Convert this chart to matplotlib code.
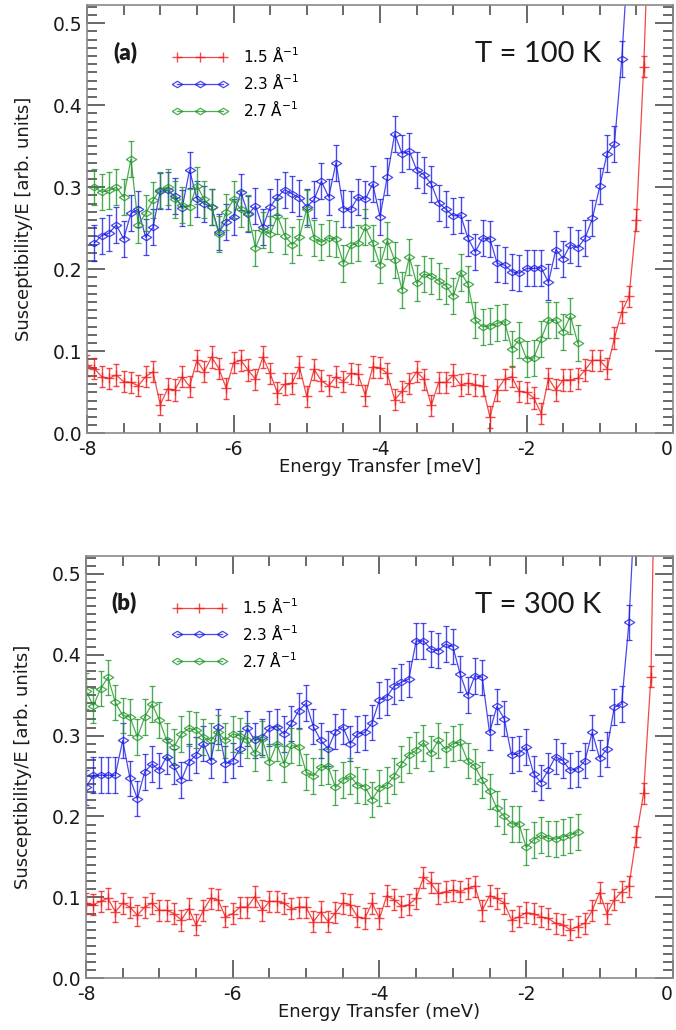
import numpy as np
import matplotlib
matplotlib.use("Agg")
import matplotlib.pyplot as plt
from matplotlib.ticker import MultipleLocator

plt.rcParams["font.family"] = ["DejaVu Sans"]
plt.rcParams["axes.unicode_minus"] = False
plt.rcParams["mathtext.default"] = "regular"

# ---- data, one point every 0.1 meV ----
# panel (a) T = 100 K
red_a_start = -8.0
red_a = [0.083, 0.079, 0.069, 0.067, 0.071, 0.063, 0.062, 0.058, 0.069, 0.075,
         0.035, 0.054, 0.053, 0.069, 0.057, 0.089, 0.075, 0.093, 0.079, 0.055,
         0.086, 0.089, 0.077, 0.066, 0.093, 0.073, 0.049, 0.060, 0.061, 0.081,
         0.045, 0.078, 0.064, 0.058, 0.069, 0.063, 0.073, 0.072, 0.046, 0.081,
         0.080, 0.073, 0.041, 0.051, 0.061, 0.075, 0.066, 0.034, 0.062, 0.062,
         0.071, 0.059, 0.061, 0.059, 0.058, 0.020, 0.053, 0.066, 0.069, 0.051,
         0.050, 0.043, 0.024, 0.067, 0.053, 0.065, 0.065, 0.067, 0.077, 0.089,
         0.089, 0.079, 0.116, 0.148, 0.167, 0.260, 0.447, 0.700]
blue_a_start = -7.9
blue_a = [0.232, 0.241, 0.244, 0.254, 0.237, 0.268, 0.273, 0.239, 0.251, 0.295,
          0.296, 0.289, 0.275, 0.321, 0.286, 0.280, 0.276, 0.245, 0.258, 0.264,
          0.294, 0.267, 0.277, 0.251, 0.276, 0.288, 0.297, 0.292, 0.287, 0.276,
          0.285, 0.307, 0.288, 0.330, 0.274, 0.273, 0.288, 0.285, 0.304, 0.264,
          0.313, 0.365, 0.341, 0.344, 0.321, 0.315, 0.304, 0.281, 0.273, 0.265,
          0.266, 0.238, 0.221, 0.238, 0.237, 0.207, 0.205, 0.197, 0.195, 0.201,
          0.201, 0.202, 0.184, 0.224, 0.213, 0.230, 0.226, 0.238, 0.262, 0.301,
          0.341, 0.353, 0.456, 0.600]
green_a_start = -7.9
green_a = [0.300, 0.294, 0.296, 0.300, 0.288, 0.334, 0.254, 0.268, 0.284, 0.297,
           0.300, 0.285, 0.278, 0.276, 0.302, 0.285, 0.276, 0.243, 0.270, 0.285,
           0.273, 0.268, 0.226, 0.248, 0.243, 0.265, 0.241, 0.230, 0.239, 0.274,
           0.238, 0.233, 0.238, 0.237, 0.207, 0.229, 0.232, 0.251, 0.232, 0.205,
           0.235, 0.211, 0.175, 0.215, 0.183, 0.194, 0.192, 0.186, 0.180, 0.167,
           0.196, 0.182, 0.138, 0.130, 0.131, 0.134, 0.136, 0.103, 0.114, 0.091,
           0.092, 0.115, 0.138, 0.138, 0.124, 0.143, 0.110]

# panel (b) T = 300 K
red_b_start = -8.0
red_b = [0.093, 0.091, 0.095, 0.099, 0.082, 0.093, 0.088, 0.078, 0.088, 0.093,
         0.084, 0.084, 0.080, 0.072, 0.086, 0.066, 0.084, 0.099, 0.097, 0.076,
         0.080, 0.088, 0.088, 0.101, 0.084, 0.095, 0.095, 0.093, 0.086, 0.088,
         0.088, 0.070, 0.082, 0.070, 0.081, 0.093, 0.091, 0.076, 0.074, 0.093,
         0.074, 0.102, 0.097, 0.089, 0.091, 0.099, 0.125, 0.118, 0.105, 0.107,
         0.109, 0.107, 0.111, 0.114, 0.084, 0.102, 0.099, 0.093, 0.072, 0.076,
         0.081, 0.080, 0.076, 0.074, 0.068, 0.066, 0.060, 0.064, 0.068, 0.084,
         0.106, 0.080, 0.097, 0.107, 0.114, 0.175, 0.229, 0.373, 0.900]
blue_b_start = -8.0
blue_b = [0.236, 0.251, 0.251, 0.251, 0.251, 0.294, 0.247, 0.222, 0.255, 0.265,
          0.257, 0.274, 0.262, 0.245, 0.267, 0.276, 0.290, 0.269, 0.311, 0.265,
          0.269, 0.284, 0.309, 0.294, 0.298, 0.309, 0.311, 0.302, 0.315, 0.331,
          0.340, 0.311, 0.294, 0.284, 0.305, 0.311, 0.290, 0.302, 0.304, 0.316,
          0.344, 0.348, 0.361, 0.366, 0.370, 0.417, 0.417, 0.407, 0.405, 0.413,
          0.410, 0.376, 0.350, 0.374, 0.372, 0.304, 0.336, 0.321, 0.276, 0.278,
          0.286, 0.253, 0.242, 0.257, 0.274, 0.269, 0.257, 0.259, 0.269, 0.304,
          0.272, 0.283, 0.335, 0.339, 0.440, 0.620]
green_b_start = -8.0
green_b = [0.355, 0.337, 0.358, 0.372, 0.341, 0.325, 0.323, 0.298, 0.323, 0.339,
           0.319, 0.294, 0.286, 0.302, 0.309, 0.307, 0.298, 0.294, 0.304, 0.294,
           0.302, 0.300, 0.294, 0.278, 0.296, 0.267, 0.290, 0.265, 0.288, 0.286,
           0.255, 0.250, 0.261, 0.262, 0.236, 0.245, 0.250, 0.239, 0.237, 0.221,
           0.235, 0.239, 0.250, 0.265, 0.276, 0.282, 0.291, 0.278, 0.294, 0.283,
           0.290, 0.292, 0.269, 0.262, 0.245, 0.231, 0.210, 0.200, 0.191, 0.191,
           0.162, 0.171, 0.177, 0.173, 0.172, 0.175, 0.177, 0.181]

# typical error bar half-widths
err_red = 0.013
err_blue = 0.022
err_green = 0.022

labels = ["1.5 Å$^{-1}$", "2.3 Å$^{-1}$", "2.7 Å$^{-1}$"]
colors = ["#f01c1c", "#1c1ce8", "#22962a"]

# flattened open diamond, like the original symbols
diamond = [(-1, 0), (0, 0.62), (1, 0), (0, -0.62), (-1, 0)]


def energies(start, values):
    return start + 0.1 * np.arange(len(values))


def draw_panel(ax, series, tag, temp, xlabel, legend_y):
    handles = []
    for (start, vals, err), lab, col in zip(series, labels, colors):
        x = energies(start, vals)
        if col == colors[0]:
            mk = dict(marker="+", ms=7, mew=1.0)
        else:
            mk = dict(marker=diamond, ms=7.5, mew=0.9, mfc="none")
        cont = ax.errorbar(x, vals, yerr=err, color=col, lw=0.9, elinewidth=1.0,
                           capsize=2, capthick=0.9, alpha=0.8, **mk)
        handles.append(cont[0])

    ax.set_xlim(-8, 0)
    ax.set_ylim(0, 0.522)
    ax.xaxis.set_major_locator(MultipleLocator(2))
    ax.xaxis.set_minor_locator(MultipleLocator(0.5))
    ax.yaxis.set_major_locator(MultipleLocator(0.1))
    ax.yaxis.set_minor_locator(MultipleLocator(0.01))
    ax.xaxis.set_major_formatter(plt.FuncFormatter(lambda v, p: f"{v:.0f}"))
    ax.yaxis.set_major_formatter(plt.FuncFormatter(lambda v, p: f"{v:.1f}"))
    ax.tick_params(which="both", direction="in", top=True, right=True,
                   color="#404040", width=1.1, labelsize=13.5, labelcolor="#1a1a1a")
    ax.tick_params(which="major", length=13)
    ax.tick_params(which="minor", length=7)
    ax.tick_params(axis="x", pad=5)
    ax.tick_params(axis="y", pad=3)
    for sp in ax.spines.values():
        sp.set_color("#8a8a8a")
        sp.set_linewidth(1.2)

    ax.set_xlabel(xlabel, fontsize=13, color="#1a1a1a")
    ax.set_ylabel("Susceptibility/E [arb. units]", fontsize=13, color="#1a1a1a")
    ax.xaxis.set_label_coords(0.5, -0.058)
    ax.yaxis.set_label_coords(-0.092, 0.5)

    ax.legend(handles, labels, loc="upper left", bbox_to_anchor=(0.136, legend_y),
              borderaxespad=0, frameon=False, fontsize=11, numpoints=3,
              handlelength=3.6, handletextpad=1.0, labelspacing=0.45)
    ax.text(0.065, 0.89, tag, transform=ax.transAxes, ha="center", va="center",
            fontsize=16, fontweight="heavy", family="Lato", color="#1a1a1a")
    ax.text(0.77, 0.885, temp, transform=ax.transAxes, ha="center", va="center",
            fontsize=21, family="Lato", color="#1a1a1a")


fig = plt.figure(figsize=(6.76, 10.30), dpi=100)
ax_a = fig.add_axes([0.1287, 0.5793, 0.8669, 0.4158])
ax_b = fig.add_axes([0.1272, 0.0502, 0.8683, 0.4100])

draw_panel(ax_a,
           [(red_a_start, red_a, err_red), (blue_a_start, blue_a, err_blue),
            (green_a_start, green_a, err_green)],
           "(a)", "T = 100 K", "Energy Transfer [meV]", 0.92)
draw_panel(ax_b,
           [(red_b_start, red_b, err_red), (blue_b_start, blue_b, err_blue),
            (green_b_start, green_b, err_green)],
           "(b)", "T = 300 K", "Energy Transfer (meV)", 0.92)

# the "0" at the right end sits against the figure border: right-align it
fig.canvas.draw()
for ax in (ax_a, ax_b):
    for tick in ax.xaxis.get_major_ticks():
        if abs(tick.get_loc()) < 1e-9:
            tick.label1.set_horizontalalignment("right")

fig.savefig("out.png", dpi=100)
